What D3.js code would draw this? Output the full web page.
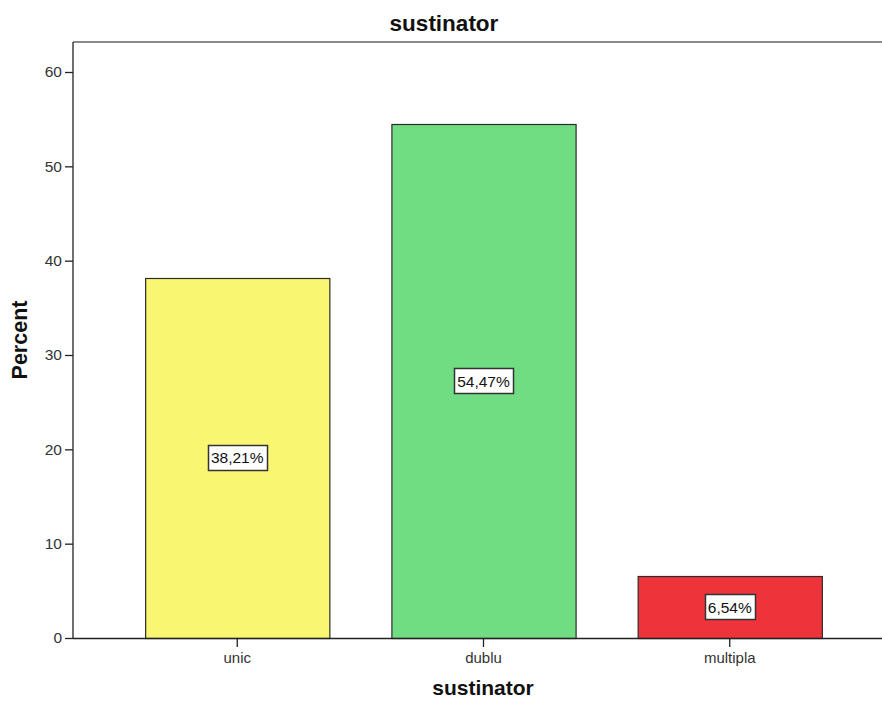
<!DOCTYPE html>
<html>
<head>
<meta charset="utf-8">
<script src="https://cdn.jsdelivr.net/npm/d3@7"></script>
<style>
  html, body { margin: 0; padding: 0; background: #fff; }
  svg { display: block; font-family: "Liberation Sans", Arial, sans-serif; }
</style>
</head>
<body>
<svg id="chart" width="882" height="701"></svg>
<script>
const categories = ["unic", "dublu", "multipla"];
const percents = [38.21, 54.47, 6.54];
const valueLabels = ["38,21%", "54,47%", "6,54%"];
const barColors = ["#f9f772", "#70dd82", "#ef333a"];
const yTicks = [0, 10, 20, 30, 40, 50, 60];
const chartTitle = "sustinator";
const xTitle = "sustinator";
const yTitle = "Percent";

const W = 882, H = 701;
const mLeft = 73, mTop = 42, mBottom = 638;
const svg = d3.select("#chart");

const y = d3.scaleLinear().domain([0, 60]).range([mBottom, 72]);
const x = d3.scaleBand().domain(categories).range([mLeft, 894])
  .paddingInner(0.252).paddingOuter(0.293);

// frame top line
svg.append("line").attr("x1", mLeft).attr("x2", W).attr("y1", mTop).attr("y2", mTop)
  .attr("stroke", "#8a8a8a").attr("stroke-width", 2);

// bars
svg.selectAll("rect.bar").data(percents).enter().append("rect")
  .attr("class", "bar")
  .attr("x", (d, i) => x(categories[i]) + 0.5)
  .attr("y", d => Math.round(y(d)) + 0.5)
  .attr("width", x.bandwidth())
  .attr("height", d => mBottom - Math.round(y(d)))
  .attr("fill", (d, i) => barColors[i])
  .attr("stroke", "#2b2b2b").attr("stroke-width", 1.2);

// y axis
const yAxis = d3.axisLeft(y).tickValues(yTicks).tickSize(8).tickPadding(3).tickFormat(d3.format("d"));
const gy = svg.append("g").attr("transform", `translate(${mLeft},0)`).call(yAxis);
gy.select(".domain").remove();
gy.selectAll(".tick line").attr("stroke", "#222").attr("stroke-width", 1.3);
gy.selectAll(".tick text").attr("font-size", 15.5).attr("fill", "#333")
  .attr("font-family", "'Liberation Sans', Arial, sans-serif");
svg.append("line").attr("x1", mLeft).attr("x2", mLeft).attr("y1", mTop).attr("y2", mBottom)
  .attr("stroke", "#222").attr("stroke-width", 1.3);

// x axis
const xAxis = d3.axisBottom(x).tickSize(9).tickPadding(5);
const gx = svg.append("g").attr("transform", `translate(0,${mBottom})`).call(xAxis);
gx.select(".domain").remove();
gx.selectAll(".tick line").attr("stroke", "#222").attr("stroke-width", 1.3);
gx.selectAll(".tick text").attr("font-size", 15).attr("fill", "#333")
  .attr("font-family", "'Liberation Sans', Arial, sans-serif");
svg.append("line").attr("x1", mLeft).attr("x2", W).attr("y1", mBottom + 0.5).attr("y2", mBottom + 0.5)
  .attr("stroke", "#222").attr("stroke-width", 1.3);

// value labels
percents.forEach((d, i) => {
  const cx = x(categories[i]) + x.bandwidth() / 2;
  const cy = (y(d) + mBottom) / 2;
  const g = svg.append("g");
  const t = g.append("text").attr("x", cx).attr("y", cy).attr("text-anchor", "middle")
    .attr("dominant-baseline", "central").attr("font-size", 15.5).attr("fill", "#111")
    .text(valueLabels[i]);
  const bb = t.node().getBBox();
  g.insert("rect", "text").attr("x", Math.round(bb.x - 3) + 0.5).attr("y", Math.round(cy - 13) + 0.5)
    .attr("width", Math.round(bb.width + 6)).attr("height", 25)
    .attr("fill", "#fff").attr("stroke", "#333").attr("stroke-width", 1.5);
});

// titles
svg.append("text").attr("x", 444).attr("y", 31).attr("text-anchor", "middle")
  .attr("font-size", 22.5).attr("font-weight", "bold").attr("fill", "#111").text(chartTitle);
svg.append("text").attr("x", 483).attr("y", 695).attr("text-anchor", "middle")
  .attr("font-size", 21).attr("font-weight", "bold").attr("fill", "#111").text(xTitle);
svg.append("text").attr("transform", `translate(27,${(mTop + mBottom) / 2}) rotate(-90)`)
  .attr("text-anchor", "middle").attr("font-size", 21.5).attr("font-weight", "bold")
  .attr("fill", "#111").text(yTitle);
</script>
</body>
</html>
